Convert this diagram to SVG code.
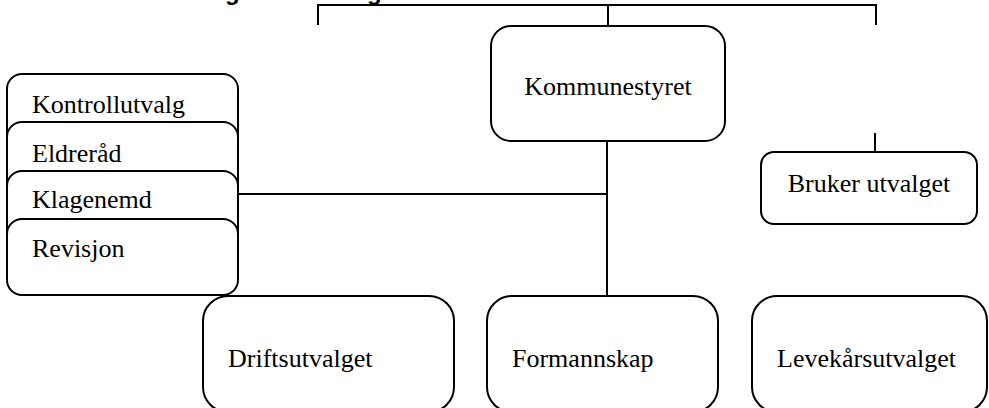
<svg xmlns="http://www.w3.org/2000/svg" width="989" height="408" viewBox="0 0 989 408">
<style>
.box{fill:#fff;stroke:#000;stroke-width:2}
.lbl{font-family:"Liberation Serif","Times New Roman",serif;font-size:26px;fill:#000}
.ctr{text-anchor:middle}
.conn line{stroke:#000;stroke-width:2}
.ttl{font-family:"Liberation Sans",Arial,sans-serif;font-weight:bold;font-size:24px;fill:#000}
</style>
<rect width="989" height="408" fill="#fff"/>
<text class="ttl" x="225" y="0">g</text>
<text class="ttl" x="367" y="0">g</text>
<g id="connectors" class="conn">
<line x1="318" y1="5" x2="877" y2="5"/>
<line x1="318" y1="4" x2="318" y2="25"/>
<line x1="608" y1="5" x2="608" y2="26"/>
<line x1="876" y1="4" x2="876" y2="25"/>
<line x1="607" y1="141" x2="607" y2="296"/>
<line x1="235" y1="194" x2="607" y2="194"/>
<line x1="875" y1="133" x2="875" y2="152"/>
</g>
<g id="kommunestyret">
<rect class="box" x="491" y="26" width="234" height="115" rx="20"/>
<text class="lbl ctr" x="608" y="95">Kommunestyret</text>
</g>
<g id="kontrollutvalg">
<rect class="box" x="7" y="74" width="231" height="100" rx="15"/>
<text class="lbl" x="32" y="113">Kontrollutvalg</text>
</g>
<g id="eldrerad">
<rect class="box" x="7" y="122" width="231" height="100" rx="15"/>
<text class="lbl" x="32" y="162">Eldreråd</text>
</g>
<g id="klagenemd">
<rect class="box" x="7" y="171" width="231" height="100" rx="15"/>
<text class="lbl" x="32" y="208">Klagenemd</text>
</g>
<g id="revisjon">
<rect class="box" x="7" y="219" width="231" height="76" rx="15"/>
<text class="lbl" x="32" y="257">Revisjon</text>
</g>
<g id="bruker-utvalget">
<rect class="box" x="761" y="152" width="216" height="72" rx="13"/>
<text class="lbl ctr" x="869" y="192">Bruker utvalget</text>
</g>
<g id="driftsutvalget">
<rect class="box" x="203" y="296" width="251" height="116" rx="25"/>
<text class="lbl" x="228" y="367">Driftsutvalget</text>
</g>
<g id="formannskap">
<rect class="box" x="487" y="296" width="231" height="116" rx="25"/>
<text class="lbl" x="512" y="367">Formannskap</text>
</g>
<g id="levekarsutvalget">
<rect class="box" x="752" y="296" width="235" height="116" rx="25"/>
<text class="lbl" x="777" y="367">Levekårsutvalget</text>
</g>
</svg>
